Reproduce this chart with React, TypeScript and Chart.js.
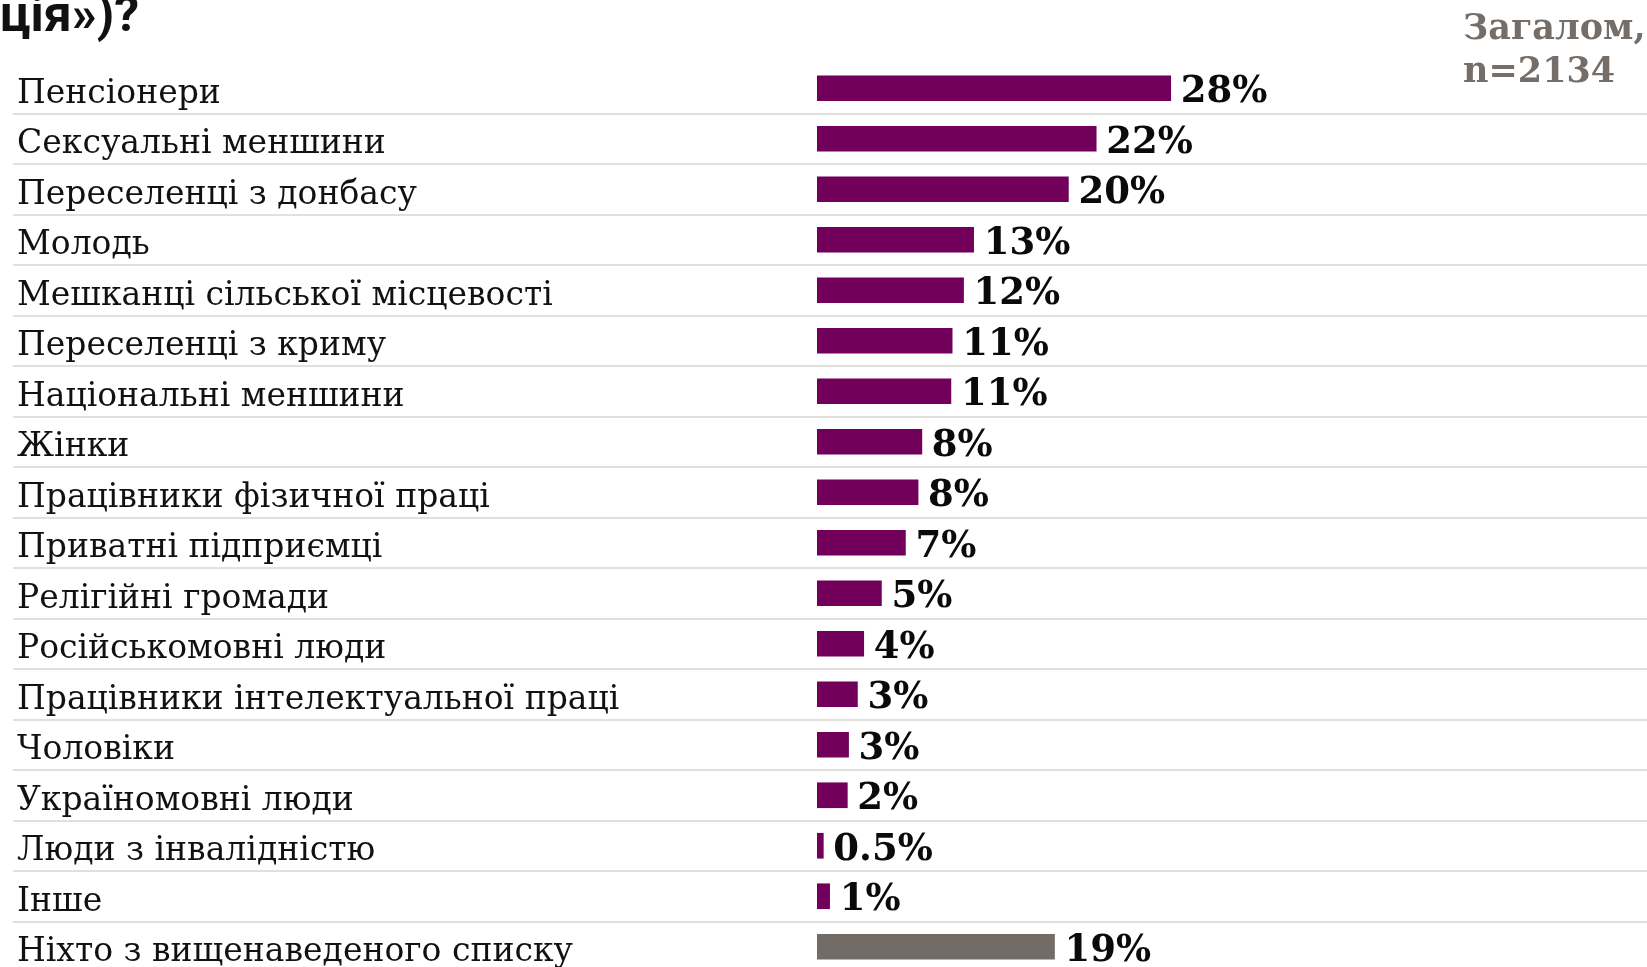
import React, { useEffect, useRef } from "react";
import { Chart, registerables } from "chart.js";

Chart.register(...registerables);

const titleTail = "ція»)?";
const headerLines = ["Загалом,", "n=2134"];

const categories = [
  "Пенсіонери",
  "Сексуальні меншини",
  "Переселенці з донбасу",
  "Молодь",
  "Мешканці сільської місцевості",
  "Переселенці з криму",
  "Національні меншини",
  "Жінки",
  "Працівники фізичної праці",
  "Приватні підприємці",
  "Релігійні громади",
  "Російськомовні люди",
  "Працівники інтелектуальної праці",
  "Чоловіки",
  "Україномовні люди",
  "Люди з інвалідністю",
  "Інше",
  "Ніхто з вищенаведеного списку",
];

const values = [28, 22.1, 19.9, 12.4, 11.6, 10.7, 10.6, 8.3, 8.0, 7.0, 5.1, 3.7, 3.2, 2.5, 2.4, 0.5, 1.0, 18.8];

const valueLabels = ["28%", "22%", "20%", "13%", "12%", "11%", "11%", "8%", "8%", "7%", "5%", "4%", "3%", "3%", "2%", "0.5%", "1%", "19%"];

const PURPLE = "#72005a";
const GRAY = "#736b65";

export default function App() {
  const ref = useRef<HTMLCanvasElement | null>(null);

  useEffect(() => {
    const canvas = ref.current;
    if (!canvas) return;

    const decor = {
      id: "decor",
      beforeDatasetsDraw(chart: any) {
        const ctx = chart.ctx;
        const y = chart.scales.y;
        ctx.save();
        ctx.strokeStyle = "#e2e0da";
        ctx.lineWidth = 2;
        for (let i = 0; i < categories.length - 1; i++) {
          const py = Math.round((y.getPixelForValue(i) + y.getPixelForValue(i + 1)) / 2);
          ctx.beginPath();
          ctx.moveTo(13, py);
          ctx.lineTo(chart.width, py);
          ctx.stroke();
        }
        ctx.restore();
      },
      afterDatasetsDraw(chart: any) {
        const ctx = chart.ctx;
        ctx.save();
        // title tail (cut off at top)
        ctx.fillStyle = "#111111";
        ctx.font = "bold 50px Roboto, 'Liberation Sans', sans-serif";
        ctx.textBaseline = "alphabetic";
        ctx.textAlign = "left";
        ctx.fillText(titleTail, 0, 31);
        // column header
        ctx.fillStyle = "#756d67";
        ctx.font = "bold 35px 'DejaVu Serif', serif";
        ctx.fillText(headerLines[0], 1463, 39);
        ctx.fillText(headerLines[1], 1463, 82);
        // value labels
        const meta = chart.getDatasetMeta(0);
        ctx.fillStyle = "#0a0a0a";
        ctx.font = "bold 37px 'DejaVu Serif', serif";
        meta.data.forEach((bar: any, i: number) => {
          ctx.fillText(valueLabels[i], bar.x + 10, bar.y + 14);
        });
        ctx.restore();
      },
    };

    const chart = new Chart(canvas, {
      type: "bar",
      data: {
        labels: categories,
        datasets: [
          {
            data: values,
            backgroundColor: categories.map((_, i) => (i === categories.length - 1 ? GRAY : PURPLE)),
            barThickness: 25,
            borderWidth: 0,
          },
        ],
      },
      options: {
        indexAxis: "y",
        animation: false,
        responsive: false,
        maintainAspectRatio: false,
        layout: { autoPadding: false, padding: { left: 17, right: 72, top: 63, bottom: 3 } },
        plugins: {
          legend: { display: false },
          tooltip: { enabled: false },
          title: { display: false },
        },
        scales: {
          x: {
            display: false,
            min: 0,
            max: 60,
          },
          y: {
            grid: { display: false },
            border: { display: false },
            afterFit: (scale: any) => {
              scale.width = 800;
              scale.paddingTop = 0;
              scale.paddingBottom = 0;
            },
            ticks: {
              crossAlign: "far",
              labelOffset: 6,
              color: "#111111",
              font: { family: "'DejaVu Serif', serif", size: 33 },
              autoSkip: false,
            },
          },
        },
      },
      plugins: [decor],
    });

    return () => chart.destroy();
  }, []);

  return (
    <div
      style={{
        position: "fixed",
        left: 0,
        top: 0,
        width: 1647,
        height: 967,
        overflow: "hidden",
        background: "#ffffff",
      }}
    >
      <canvas ref={ref} width={1647} height={975} style={{ display: "block", width: 1647, height: 975 }} />
    </div>
  );
}
